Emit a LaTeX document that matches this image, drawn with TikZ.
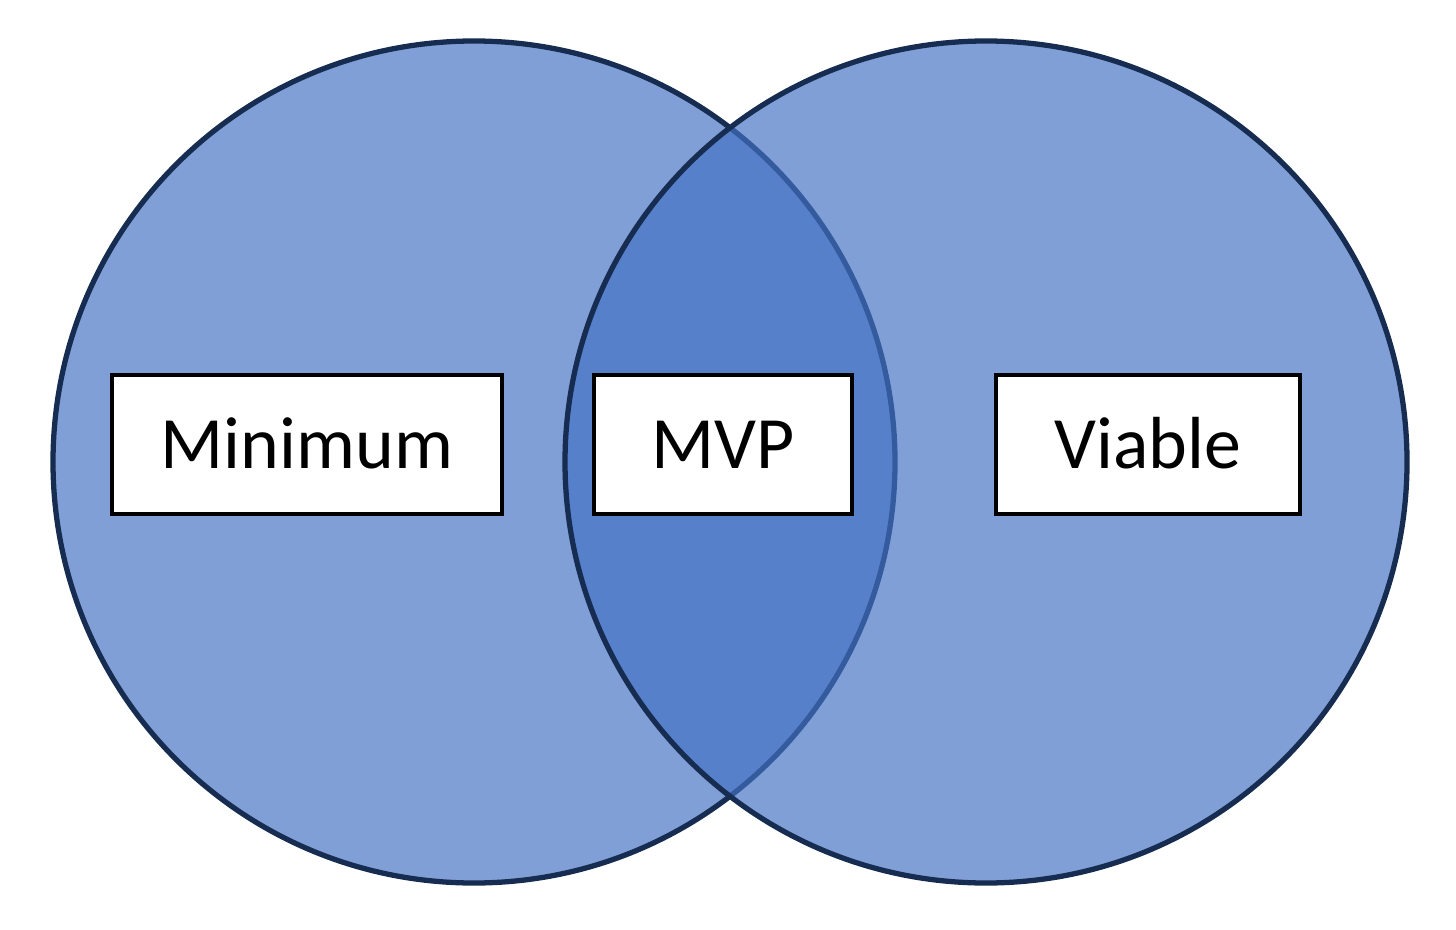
\documentclass[tikz,border=0pt]{standalone}
\usepackage{fontspec}
\setmainfont{Carlito}
\usepackage{tikz}
\definecolor{navy}{HTML}{172C51}
\definecolor{officeblue}{HTML}{4472C4}

\begin{document}
\begin{tikzpicture}[x=1cm,y=1cm,
  venn/.style={circle,draw=navy,line width=1.5pt,fill=officeblue,fill opacity=0.68,draw opacity=1,minimum size=8.42cm,inner sep=0pt},
  lbl/.style={rectangle,draw=black,line width=0.9pt,fill=white,minimum height=1.39cm,text height=0.48cm,text depth=0pt,inner sep=0pt,font=\fontsize{21}{25}\selectfont}]
\useasboundingbox (0,0) rectangle (14.56,9.29);
\node[venn] (cmin) at (4.74,4.67) {};
\node[venn] (cvia) at (9.86,4.67) {};
\node[lbl,minimum width=3.90cm] (minimum) at (3.07,4.845) {Minimum};
\node[lbl,minimum width=2.58cm] (mvp) at (7.23,4.845) {MVP};
\node[lbl,minimum width=3.04cm] (viable) at (11.48,4.845) {Viable};
\end{tikzpicture}
\end{document}
